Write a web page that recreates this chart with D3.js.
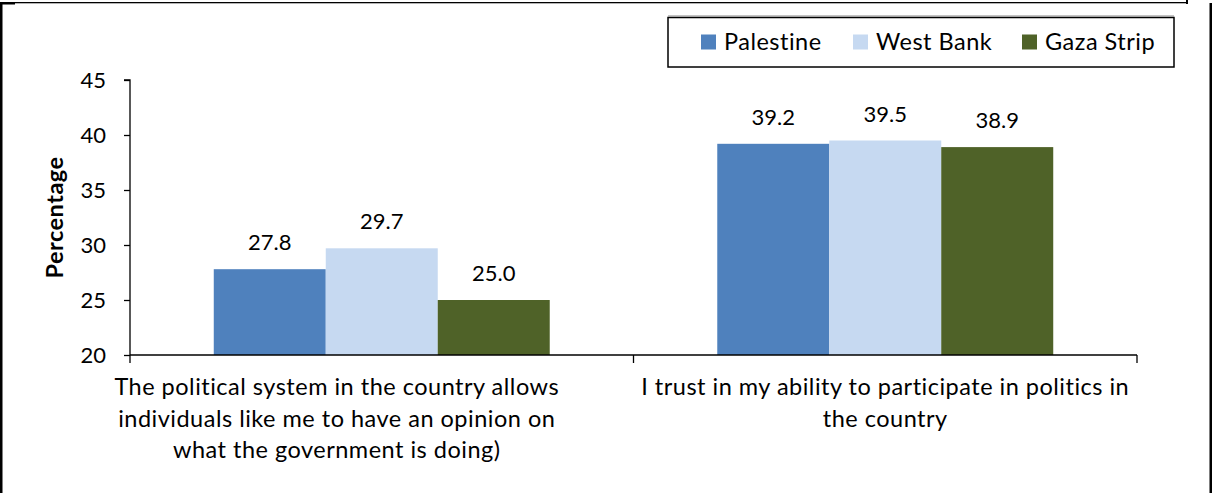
<!DOCTYPE html>
<html>
<head>
<meta charset="utf-8">
<script src="https://cdn.jsdelivr.net/npm/d3@7"></script>
<style>
  html, body { margin: 0; padding: 0; background: #fff; }
  svg { display: block; }
  text { font-family: Lato, "Open Sans", sans-serif; fill: #000; }
</style>
</head>
<body>
<svg id="chart" width="1212" height="493"></svg>
<script>
const categories = [
  ["The political system in the country allows", "individuals like me to have an opinion on", "what the government is doing)"],
  ["I trust in my ability to participate in politics in", "the country"]
];
const categoryKeys = ["political_system", "trust_ability"];
const seriesNames = ["Palestine", "West Bank", "Gaza Strip"];
const seriesColors = ["#4F81BD", "#C6D9F1", "#4F6228"];
const palestine = [27.8, 39.2];
const westBank = [29.7, 39.5];
const gazaStrip = [25.0, 38.9];
const yTicks = [20, 25, 30, 35, 40, 45];
const yLabel = "Percentage";

const seriesValues = [palestine, westBank, gazaStrip];
const data = categoryKeys.map((k, i) => ({
  key: k,
  lines: categories[i],
  values: seriesNames.map((s, j) => ({ series: s, value: seriesValues[j][i], color: seriesColors[j] }))
}));

const svg = d3.select("#chart");
const FS = 22;     // numbers
const FT = 23.5;   // words
const LS = 0.5;    // letter spacing for words

// Frame
svg.append("rect").attr("x", 0).attr("y", 2).attr("width", 2.5).attr("height", 491).attr("fill", "#000");
svg.append("rect").attr("x", 0).attr("y", 2).attr("width", 1188).attr("height", 1.3).attr("fill", "#000");
svg.append("rect").attr("x", 0).attr("y", 2).attr("width", 15).attr("height", 2.5).attr("fill", "#000");
svg.append("rect").attr("x", 1186).attr("y", 0).attr("width", 2).attr("height", 4).attr("fill", "#000");
svg.append("rect").attr("x", 1209.5).attr("y", 3).attr("width", 2.5).attr("height", 490).attr("fill", "#000");

const plot = { left: 130, right: 1137, top: 80, bottom: 355 };

const x0 = d3.scaleBand().domain(categoryKeys).range([plot.left, plot.right]).paddingInner(0).paddingOuter(0);
const x1 = d3.scaleBand().domain(seriesNames).range([0, x0.bandwidth()]).paddingInner(0).paddingOuter(0.748);
const y = d3.scaleLinear().domain([20, 45]).range([plot.bottom, plot.top]);

// Bars
const groups = svg.append("g").selectAll("g").data(data).join("g")
  .attr("transform", d => `translate(${x0(d.key)},0)`);
groups.selectAll("rect").data(d => d.values).join("rect")
  .attr("x", d => x1(d.series))
  .attr("y", d => y(d.value))
  .attr("width", x1.bandwidth())
  .attr("height", d => y(20) - y(d.value))
  .attr("fill", d => d.color);
groups.selectAll("text.val").data(d => d.values).join("text")
  .attr("class", "val")
  .attr("x", d => x1(d.series) + x1.bandwidth() / 2)
  .attr("y", d => y(d.value) - 19)
  .attr("text-anchor", "middle")
  .attr("font-size", FS)
  .text(d => d.value.toFixed(1));

// Y axis
const yAxis = d3.axisLeft(y).tickValues(yTicks).tickSize(6).tickPadding(18).tickFormat(d3.format("d"));
const gy = svg.append("g").attr("transform", `translate(${plot.left},0)`).call(yAxis);
gy.select(".domain").attr("stroke", "#000").attr("stroke-width", 1.3).attr("d", `M-6,${plot.top}H0V${plot.bottom}`);
gy.selectAll(".tick line").attr("stroke", "#000").attr("stroke-width", 1.3);
gy.selectAll(".tick text").attr("font-size", FS).attr("font-family", "Lato, sans-serif").attr("fill", "#000").attr("dy", "0.36em");

// X axis
const gx = svg.append("g").attr("transform", `translate(0,${plot.bottom})`);
gx.append("line").attr("x1", plot.left).attr("x2", plot.right).attr("stroke", "#000").attr("stroke-width", 1.3);
const boundaries = [plot.left, ...categoryKeys.map(k => x0(k) + x0.bandwidth())];
gx.selectAll("line.tk").data(boundaries).join("line").attr("class", "tk")
  .attr("x1", d => d).attr("x2", d => d).attr("y1", 0).attr("y2", 8)
  .attr("stroke", "#000").attr("stroke-width", 1.3);

// Category labels (first label sits left of its band centre, as in the reference)
const labelShift = [-45, 0];
const catText = svg.append("g").selectAll("text").data(data).join("text")
  .attr("text-anchor", "middle")
  .attr("font-size", FT)
  .attr("letter-spacing", LS)
  .attr("y", 395);
catText.selectAll("tspan").data((d, i) => d.lines.map(l => ({ l, cx: x0(d.key) + x0.bandwidth() / 2 + labelShift[i] }))).join("tspan")
  .attr("x", d => d.cx)
  .attr("dy", (d, i) => i === 0 ? 0 : 31.5)
  .text(d => d.l);

// Y label
svg.append("text")
  .attr("transform", `translate(63,${(plot.top + plot.bottom) / 2}) rotate(-90)`)
  .attr("text-anchor", "middle")
  .attr("font-size", FT)
  .attr("letter-spacing", LS)
  .attr("font-weight", "bold")
  .text(yLabel);

// Legend
const legend = svg.append("g");
legend.append("rect").attr("x", 668).attr("y", 17.5).attr("width", 506).attr("height", 49.5)
  .attr("fill", "#fff").attr("stroke", "#000").attr("stroke-width", 1.5);
legend.append("line").attr("x1", 668).attr("x2", 1174).attr("y1", 16).attr("y2", 16).attr("stroke", "#888").attr("stroke-width", 1.2);
const legX = [701, 853, 1022];
const li = legend.selectAll("g.li").data(seriesNames).join("g").attr("class", "li")
  .attr("transform", (d, i) => `translate(${legX[i]},0)`);
li.append("rect").attr("x", 0).attr("y", 34.5).attr("width", 15).attr("height", 15).attr("fill", (d, i) => seriesColors[i]);
li.append("text").attr("x", 23).attr("y", 50).attr("font-size", FT).attr("letter-spacing", LS).text(d => d);
</script>
</body>
</html>
